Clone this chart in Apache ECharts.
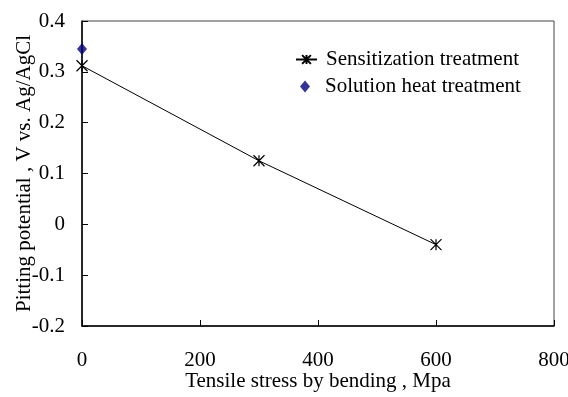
<!DOCTYPE html>
<html><head><meta charset="utf-8">
<script src="https://cdn.jsdelivr.net/npm/echarts@6/dist/echarts.min.js"></script>
<style>html,body{margin:0;padding:0;background:#fff}#c{width:568px;height:397px}</style>
</head><body><div id="c"></div>
<script>
var xTicks = [0, 200, 400, 600, 800];
var yTicks = [-0.2, -0.1, 0, 0.1, 0.2, 0.3, 0.4];
var sensStress = [0, 300, 600];
var sensPotential = [0.312, 0.125, -0.04];
var solStress = [0];
var solPotential = [0.345];
var seriesNames = ['Sensitization treatment', 'Solution heat treatment'];
var xName = 'Tensile stress by bending , Mpa';
var yName = 'Pitting potential , V vs. Ag/AgCl';

var FONT = 'Liberation Serif';
var FS = 21;
var asterisk = 'path://M0,0 L10,10 M10,0 L0,10 M5,0 L5,10';
var chart = echarts.init(document.getElementById('c'));
chart.setOption({
  animation: false,
  backgroundColor: '#fff',
  textStyle: {fontFamily: FONT, color: '#000'},
  grid: {left: 82, right: 14, top: 21, bottom: 71, outerBoundsMode: 'none', containLabel: false,
    show: true, borderColor: '#444', borderWidth: 1},
  legend: [
    {
      orient: 'vertical', left: 295, top: 49, padding: 0, itemWidth: 21, itemHeight: 11,
      textStyle: {fontFamily: FONT, fontSize: FS, color: '#000', padding: [0, 0, 0, 4]},
      data: [{name: seriesNames[0]}]
    },
    {
      orient: 'vertical', left: 300, top: 76, padding: 0, itemWidth: 10, itemHeight: 12,
      textStyle: {fontFamily: FONT, fontSize: FS, color: '#000', padding: [0, 0, 0, 10]},
      data: [{name: seriesNames[1]}]
    }
  ],
  xAxis: {
    type: 'value', min: xTicks[0], max: xTicks[xTicks.length-1], interval: 200,
    name: xName, nameLocation: 'middle', nameGap: 45, nameMoveOverlap: false,
    nameTextStyle: {fontFamily: FONT, fontSize: FS, color: '#000'},
    axisLine: {onZero: false, lineStyle: {color: '#000', width: 1.5}},
    axisTick: {inside: true, length: 6, lineStyle: {color: '#000'}},
    axisLabel: {margin: 24, fontFamily: FONT, fontSize: FS, color: '#000'},
    splitLine: {show: false}
  },
  yAxis: {
    type: 'value', min: yTicks[0], max: yTicks[yTicks.length-1], interval: 0.1,
    name: yName, nameLocation: 'middle', nameGap: 47, nameMoveOverlap: false,
    nameTextStyle: {fontFamily: FONT, fontSize: FS, color: '#000'},
    axisLine: {onZero: false, lineStyle: {color: '#000', width: 1.5}},
    axisTick: {inside: true, length: 6, lineStyle: {color: '#000'}},
    axisLabel: {margin: 17, fontFamily: FONT, fontSize: FS, color: '#000',
      formatter: function(v){ return Math.abs(v) < 1e-9 ? '0' : String(Math.round(v*10)/10); }},
    splitLine: {show: false}
  },
  series: [
    {
      name: seriesNames[0], type: 'line',
      data: sensStress.map(function(x, i){ return [x, sensPotential[i]]; }),
      symbol: asterisk, symbolSize: 11,
      lineStyle: {color: '#000', width: 1},
      itemStyle: {color: 'rgba(0,0,0,0)', borderColor: '#000', borderWidth: 1.2}
    },
    {
      name: seriesNames[1], type: 'scatter',
      data: solStress.map(function(x, i){ return [x, solPotential[i]]; }),
      symbol: 'diamond', symbolSize: [10, 12],
      itemStyle: {color: '#000080'}
    }
  ]
});
</script></body></html>
